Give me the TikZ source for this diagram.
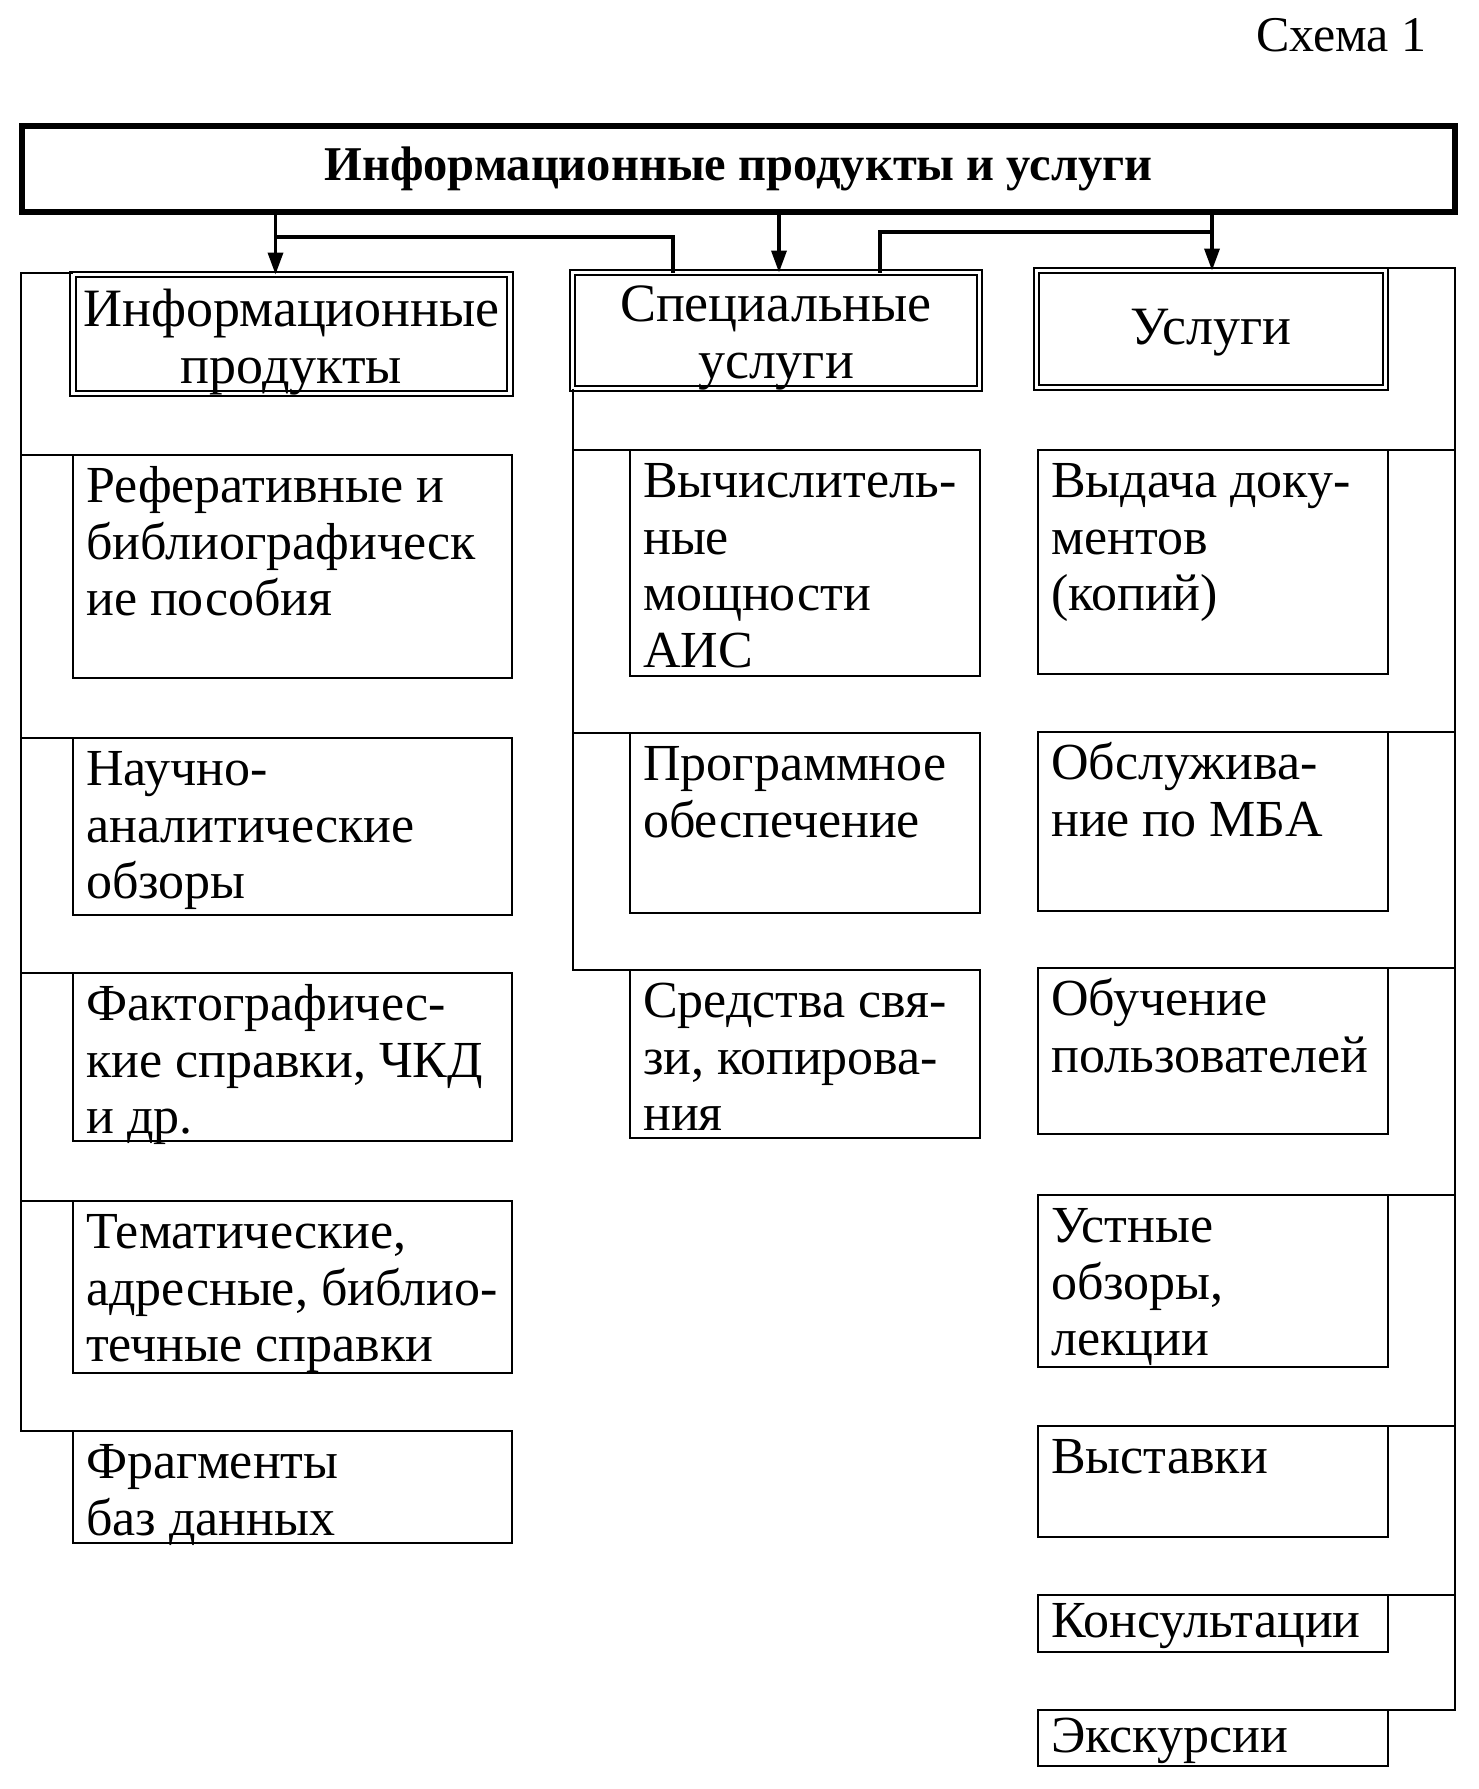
\documentclass[tikz,border=0pt]{standalone}
\usepackage{fontspec}
\setmainfont{Liberation Serif}
\usetikzlibrary{arrows.meta, positioning}
\tikzstyle{item_box}=[rectangle,
        draw=black,
        line width=2.5,
        inner sep=0, outer sep=0,
        anchor=north west]
\tikzstyle{item_text}=[anchor=north west, inner sep=0, align=left,
        font=\fontsize{52}{56.5}\selectfont]
\tikzstyle{group_box}=[rectangle, draw=black, line width=2.2,
        double, double distance=3.5,
        inner sep=0, outer sep=0, anchor=north west]
\tikzstyle{group_text}=[inner sep=0, align=center,
        font=\fontsize{54}{57}\selectfont]
\tikzstyle{root_box}=[rectangle, draw=black, line width=6,
        inner sep=0, outer sep=0,
        font=\bfseries\fontsize{48.5}{55}\selectfont]
\tikzstyle{link}=[line width=3.5]
\tikzstyle{tree_line}=[line width=2]

\begin{document}
\begin{tikzpicture}[x=1pt, y=1pt]
    \useasboundingbox (0,0) rectangle (1479,-1789);

    \node at (1430, -51) (caption) [anchor=base east, font=\fontsize{50}{54}\selectfont] {Схема 1};
    \node at (738.5, -169) (root) [root_box, minimum width=1433, minimum height=86] {Информационные продукты и услуги};

    \node at (73, -274.5) (prod) [group_box, minimum width=437, minimum height=119] {};
    \node at (572.5, -272.5) (spec) [group_box, minimum width=407, minimum height=116] {};
    \node at (1036.5, -270.5) (serv) [group_box, minimum width=349, minimum height=117] {};
    \node at ([yshift=-8]prod.center) (prod t) [group_text] {Информационные\\продукты};
    \node at ([yshift=-7]spec.center) (spec t) [group_text] {Специальные\\услуги};
    \node at ([yshift=-4]serv.center) (serv t) [group_text] {Услуги};

    % arrows from the title box
    \draw[link, -{Triangle[length=22, width=15]}] ([xshift=-16]prod.north |- root.south) -- ([xshift=-16]prod.north);
    \draw[link, -{Triangle[length=22, width=15]}] ([xshift=3]spec.north |- root.south) -- ([xshift=3]spec.north);
    \draw[link, -{Triangle[length=22, width=15]}] ([xshift=1]serv.north |- root.south) -- ([xshift=1]serv.north);

    \coordinate [] (jl) at (276, -237);
    \coordinate [] (jl2) at (673, -237);
    \coordinate [] (jr) at (1212, -232);
    \coordinate [] (jr2) at (880, -232);
    \draw[link] (jl) -- (jl2) -- (jl2 |- spec.north);
    \draw[link] (jr) -- (jr2) -- (jr2 |- spec.north);

    % item boxes: name/x/y/width/height/shift/text
    \foreach \nm/\x/\y/\w/\h/\dy/\txt in {
        L1/73/455/439/223/8/{Реферативные и\\библиографическ\\ие пособия},
        L2/73/738/439/177/8/{Научно-\\аналитические\\обзоры},
        L3/73/973/439/168/8/{Фактографичес-\\кие справки, ЧКД\\и др.},
        L4/73/1201/439/172/8/{Тематические,\\адресные, библио-\\течные справки},
        L5/73/1431/439/112/8/{Фрагменты\\баз данных},
        M1/630/450/350/226/8/{Вычислитель-\\ные\\мощности\\АИС},
        M2/630/733/350/180/8/{Программное\\обеспечение},
        M3/630/970/350/168/8/{Средства свя-\\зи, копирова-\\ния},
        R1/1038/450/350/224/8/{Выдача доку-\\ментов\\(копий)},
        R2/1038/732/350/179/8/{Обслужива-\\ние по МБА},
        R3/1038/968/350/166/8/{Обучение\\пользователей},
        R4/1038/1195/350/172/8/{Устные\\обзоры,\\лекции},
        R5/1038/1426/350/111/8/{Выставки},
        R6/1038/1595/350/57/3/{Консультации},
        R7/1038/1710/350/56/3/{Экскурсии}} {
        \node at (\x, -\y) (\nm) [item_box, minimum width=\w, minimum height=\h] {};
        \node at ([xshift=13, yshift=-\dy]\nm.north west) (\nm t) [item_text] {\strut\txt};
    }

    % left bracket
    \coordinate [] (lbar) at (21, -273);
    \draw[tree_line] (lbar -| prod.west) -- (lbar) -- (lbar |- L5.north) -- (L5.north west);
    \foreach \nm in {L1,L2,L3,L4} {
        \draw[tree_line] (lbar |- \nm.north) -- (\nm.north west);
    }
    % middle bracket
    \draw[tree_line] (spec.south west) -- (spec.south west |- M3.north) -- (M3.north west);
    \foreach \nm in {M1,M2} {
        \draw[tree_line] (spec.south west |- \nm.north) -- (\nm.north west);
    }
    % right bracket
    \coordinate [] (rbar) at (1455, -268);
    \draw[tree_line] (rbar -| serv.east) -- (rbar) -- (rbar |- R7.north) -- (R7.north east);
    \foreach \nm in {R1,R2,R3,R4,R5,R6} {
        \draw[tree_line] (rbar |- \nm.north) -- (\nm.north east);
    }
\end{tikzpicture}
\end{document}
